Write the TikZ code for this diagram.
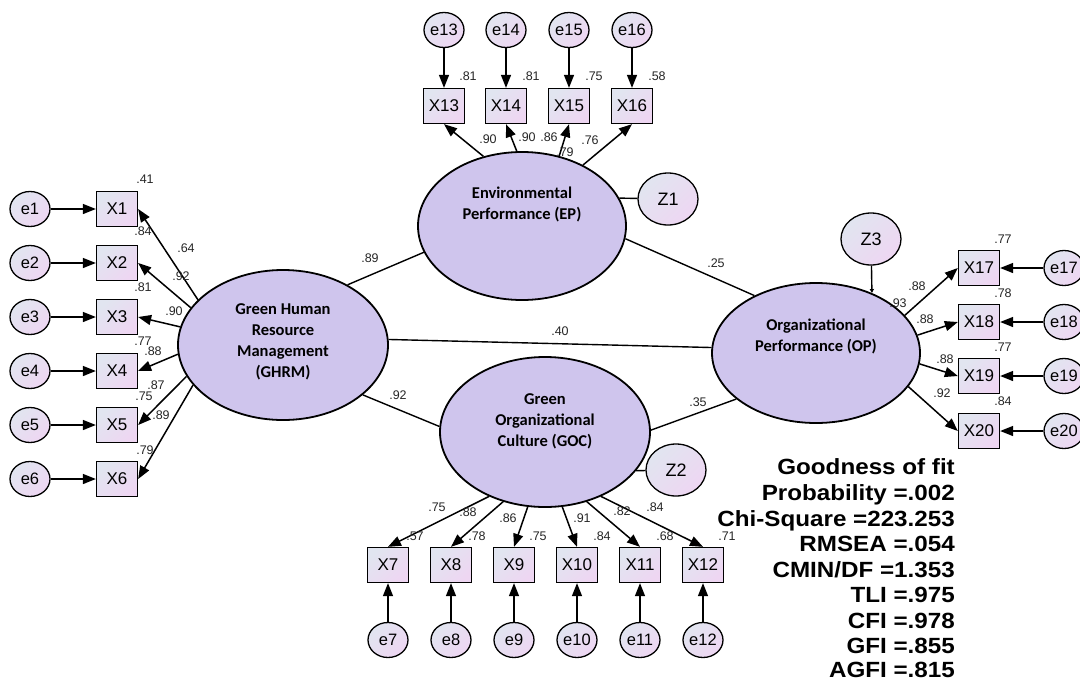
\documentclass[tikz,border=0pt]{standalone}
\usepackage{fontspec}
\setmainfont{Liberation Sans}
\newfontfamily\calibfont{Carlito}
\newfontfamily\gofont{Liberation Sans}[FakeStretch=1.1]
\usetikzlibrary{arrows.meta,shapes.geometric}
\definecolor{latfill}{RGB}{207,197,237}
\definecolor{gA}{RGB}{225,229,240}
\definecolor{gB}{RGB}{238,214,242}
\begin{document}
\begin{tikzpicture}[x=1pt,y=-1pt,
 lat/.style={ellipse,draw,line width=1.8pt,fill=latfill,inner sep=0pt},
 obs/.style={rectangle,draw,line width=1.3pt,minimum width=41pt,minimum height=35pt,inner sep=0pt,top color=gA,bottom color=gB,shading angle=45,font=\fontsize{17}{17}\selectfont},
 err/.style={ellipse,draw,line width=1.3pt,minimum width=40pt,minimum height=35pt,inner sep=0pt,top color=gA,bottom color=gB,shading angle=45,font=\fontsize{16.5}{16.5}\selectfont},
 dist/.style={ellipse,draw,line width=1.3pt,minimum width=60pt,minimum height=52pt,inner sep=0pt,top color=gA,bottom color=gB,shading angle=45,font=\fontsize{18}{18}\selectfont},
 spath/.style={line width=1.4pt},
 arr/.style={line width=1.5pt,-{Triangle[length=13pt,width=10pt]}},
 zarr/.style={line width=1.4pt,-{Triangle[length=4pt,width=4pt]}},
 lbl/.style={font=\fontsize{12.5}{12.5}\selectfont,inner sep=0pt,text=black!85},
 lattext/.style={font=\calibfont\bfseries\fontsize{16.5}{21}\selectfont,align=center,inner sep=0pt},
 gof/.style={font=\gofont\bfseries\fontsize{22}{22}\selectfont,anchor=base east,inner sep=0pt}
]
\useasboundingbox (0,0) rectangle (1080,681);
\fill[white] (0,0) rectangle (1080,681);

% latent variables
\node[lat,minimum width=210pt,minimum height=150pt] (GHRM) at (283,345) {};
\node[lat,minimum width=208pt,minimum height=148pt] (EP) at (522,226) {};
\node[lat,minimum width=208pt,minimum height=140pt] (OP) at (816,353) {};
\node[lat,minimum width=210pt,minimum height=150pt] (GOC) at (545,432) {};
\node[lattext] (GHRMt) at (283,342) {Green Human\\Resource\\Management\\(GHRM)};
\node[lattext] (EPt) at (522,204) {Environmental\\Performance (EP)};
\node[lattext] (OPt) at (816,336) {Organizational\\Performance (OP)};
\node[lattext] (GOCt) at (545,421) {Green\\Organizational\\Culture (GOC)};

% disturbances
\node[dist] (Z1) at (668,199) {Z1};
\node[dist] (Z2) at (676,470) {Z2};
\node[dist] (Z3) at (871,239) {Z3};

% left indicators
\foreach \i/\y in {1/209,2/263,3/317,4/371,5/425,6/479}{
  \node[obs] (X\i) at (117,\y) {X\i};
  \node[err] (e\i) at (30,\y) {e\i};
}
% top indicators
\foreach \i/\x in {13/444,14/506,15/569,16/632}{
  \node[obs] (X\i) at (\x,106) {X\i};
  \node[err] (e\i) at (\x,30) {e\i};
}
% right indicators
\foreach \i/\y in {17/268,18/322,19/376,20/431}{
  \node[obs] (X\i) at (979,\y) {X\i};
  \node[err] (e\i) at (1064,\y) {e\i};
}
% bottom indicators
\foreach \i/\x in {7/388,8/451,9/514,10/577,11/640,12/703}{
  \node[obs] (X\i) at (\x,565) {X\i};
  \node[err] (e\i) at (\x,640) {e\i};
}

% error arrows
\foreach \i in {1,...,20}{ \draw[arr] (e\i) -- (X\i); }

% loadings
\foreach \i/\a in {1/152,2/158,3/170,4/185.5,5/198,6/204}{ \draw[arr] (GHRM.\a) -- (X\i.east); }
\foreach \i/\a in {13/119,14/94,15/62,16/45}{ \draw[arr] (EP.\a) -- (X\i.south); }
\foreach \i/\a in {17/23,18/10,19/-6,20/-20}{ \draw[arr] (OP.\a) -- (X\i.west); }
\foreach \i/\a in {7/229,8/239,9/257,10/283,11/301,12/311}{ \draw[arr] (GOC.\a) -- (X\i.north); }

% structural paths
\draw[spath] (GHRM.43) -- (EP.195);
\draw[spath] (EP.-7) -- (OP.137);
\draw[spath] (GHRM.3) -- (OP.177);
\draw[spath] (GHRM.-32) -- (GOC.177);
\draw[spath] (GOC.1) -- (OP.210);
\draw[spath] (EP.16) -- (Z1);
\draw[spath] (GOC.-23) -- (Z2);
\draw[zarr] (Z3) -- (OP.47);

% labels
\foreach \n/\x/\y/\t in {
 a1/145/179/.41, a2/143/231/.84, a3/186/248/.64, a4/181/276/.92, a5/143/287/.81, a6/174/311/.90,
 a7/143/341/.77, a8/153/351/.88, a9/156/385/.87, a10/144/396/.75, a11/161/415/.89, a12/145/450/.79,
 b1/468/76/.81, b2/531/76/.81, b3/594/76/.75, b4/657/76/.58,
 b5/488/139/.90, b6/527/137/.90, b7/549/137/.86, b8/565/152/.79, b9/590/140/.76,
 c1/1003/239/.77, c2/1003/293/.78, c3/1003/347/.77, c4/1003/401/.84,
 c5/917/286/.88, c6/898/303/.93, c7/925/319/.88, c8/945/359/.88, c9/942/393/.92,
 d1/437/507/.75, d2/468/512/.88, d3/508/518/.86, d4/582/518/.91, d5/622/511/.82, d6/655/507/.84,
 d7/415/536/.57, d8/477/536/.78, d9/538/536/.75, d10/602/536/.84, d11/665/536/.68, d12/727/536/.71,
 s1/370/258/.89, s2/716/263/.25, s3/560/331/.40, s4/398/395/.92, s5/698/402/.35}{
  \node[lbl] (L\n) at (\x,\y) {\t};
}

% goodness of fit
\node[gof] (g1) at (955,474) {Goodness of fit};
\node[gof] (g2) at (955,500) {Probability =.002};
\node[gof] (g3) at (955,526) {Chi-Square =223.253};
\node[gof] (g4) at (955,551.5) {RMSEA =.054};
\node[gof] (g5) at (955,577) {CMIN/DF =1.353};
\node[gof] (g6) at (955,602.5) {TLI =.975};
\node[gof] (g7) at (955,628) {CFI =.978};
\node[gof] (g8) at (955,653) {GFI =.855};
\node[gof] (g9) at (955,677.5) {AGFI =.815};
\end{tikzpicture}
\end{document}
